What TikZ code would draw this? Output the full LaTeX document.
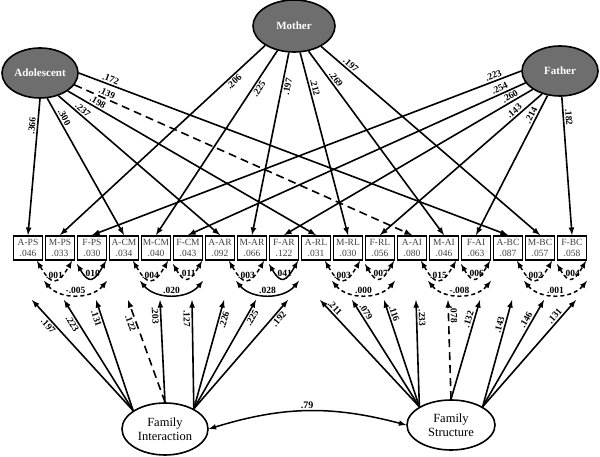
\documentclass[tikz,border=0pt]{standalone}
\usepackage{fontspec}
\setmainfont{Liberation Serif}
\usetikzlibrary{shapes.geometric}

\tikzset{
  latent/.style={ellipse, draw, line width=1.6pt, fill=black!57, text=white,
    font=\fontsize{11}{12}\selectfont\bfseries, inner sep=0pt},
  factor/.style={ellipse, draw, line width=1.6pt, fill=white, align=center,
    font=\fontsize{12.5}{14}\selectfont, inner sep=0pt},
  indic/.style={draw, line width=1.8pt, minimum width=29pt, minimum height=24pt,
    inner sep=0pt, align=center, text=black!75, font=\fontsize{9.5}{11}\selectfont},
  load/.style={line width=1.6pt, -latex},
  dsh/.style={dash pattern=on 8pt off 5pt},
  wlab/.style={font=\fontsize{9.5}{9.5}\selectfont\bfseries, sloped, inner sep=1.5pt},
  cov/.style={line width=1.5pt, latex-latex},
  cdash/.style={dash pattern=on 4pt off 3pt},
  csolid/.style={},
  clab/.style={font=\fontsize{9.5}{9.5}\selectfont\bfseries, inner sep=0.5pt, anchor=south}
}

\begin{document}
\begin{tikzpicture}[x=1pt, y=1pt]
\useasboundingbox (0,0) rectangle (600,-457);

% informants
\node[latent, minimum width=76pt, minimum height=50pt] (adol) at (40,-73) {Adolescent};
\node[latent, minimum width=82pt, minimum height=52pt] (moth) at (294,-26) {Mother};
\node[latent, minimum width=76pt, minimum height=50pt] (fath) at (560,-71) {Father};

% observed scores and their error points
\foreach \nm/\lab/\val [count=\i from 0] in {aps/A-PS/.046, mps/M-PS/.033, fps/F-PS/.030,
    acm/A-CM/.034, mcm/M-CM/.040, fcm/F-CM/.043, aar/A-AR/.092, mar/M-AR/.066, far/F-AR/.122,
    arl/A-RL/.031, mrl/M-RL/.030, frl/F-RL/.056, aai/A-AI/.080, mai/M-AI/.046, fai/F-AI/.063,
    abc/A-BC/.087, mbc/M-BC/.057, fbc/F-BC/.058}
{
    \node[indic] (\nm) at ({28+32*\i},-248) {\lab\\\val};
    \coordinate (e\nm) at ({32+32*\i},-300);
}

% family factors
\node[factor, minimum width=86pt, minimum height=52pt] (fint) at (165,-429) {Family\\Interaction};
\node[factor, minimum width=88pt, minimum height=50pt] (fstr) at (451,-425) {Family\\Structure};

% informant loadings
\foreach \nm/\ang/\p/\sd/\val in {aps/270/.2/left/.366, acm/286/.16/left/.300,
    aar/309/.13/left/.237, arl/327/.11/left/.198, abc/0/.07/left/.172}
    \draw[load] (adol.\ang) -- (\nm.north) node[wlab, pos=\p, auto=\sd] {\val};
\draw[load, dsh] (adol.341) -- (aai.north) node[wlab, pos=.09, auto] {.139};

\foreach \nm/\ang/\p/\sd/\val in {mps/214/.17/right/.206, mcm/236/.19/right/.225,
    mar/259/.18/right/.197, mrl/283/.2/left/.212, mai/300/.17/left/.269, mbc/323/.12/left/.197}
    \draw[load] (moth.\ang) -- (\nm.north) node[wlab, pos=\p, auto=\sd] {\val};

\foreach \nm/\ang/\p/\sd/\val in {fps/180/.06/left/.223, fcm/199/.07/left/.254,
    far/214/.08/left/.260, frl/232/.15/left/.143, fai/243/.16/left/.214, fbc/274/.15/left/.182}
    \draw[load] (fath.\ang) -- (\nm.north) node[wlab, pos=\p, auto=\sd] {\val};

% factor loadings
\foreach \nm/\st/\p/\val in {aps/150/.8/.197, mps/150/.81/.223, fps/150/.85/.131,
    mcm/90/.85/.203, fcm/35/.83/.127, aar/35/.83/.226, mar/35/.86/.225, far/35/.86/.192}
    \draw[load] (fint.\st) -- (e\nm) node[wlab, pos=\p, auto=right] {\val};
\draw[load, dsh] (fint.90) -- (eacm) node[wlab, pos=.79, auto=right] {.122};

\foreach \nm/\st/\p/\val in {arl/150/.89/.211, mrl/150/.86/.079, frl/150/.855/.116,
    aai/150/.83/.233, fai/90/.79/.132, abc/30/.755/.143, mbc/30/.785/.146, fbc/30/.816/.131}
    \draw[load] (fstr.\st) -- (e\nm) node[wlab, pos=\p, auto=left] {\val};
\draw[load, dsh] (fstr.90) -- (emai) node[wlab, pos=.85, auto=left] {.078};

% error covariances
\foreach \a/\m/\f/\am/\mf/\af/\sam/\smf/\saf in {
    aps/mps/fps/.001/.010/-.005/cdash/csolid/cdash,
    acm/mcm/fcm/.004/.011/.020/cdash/cdash/csolid,
    aar/mar/far/.003/.041/.028/cdash/csolid/csolid,
    arl/mrl/frl/.003/.007/.000/cdash/cdash/cdash,
    aai/mai/fai/.015/.006/-.008/cdash/cdash/cdash,
    abc/mbc/fbc/.002/.004/.001/cdash/cdash/cdash}
{
    \draw[cov, \sam] ([xshift=9pt]\a.south) to[out=-60, in=-120, looseness=2.1]
        node[clab] {\am} ([xshift=12pt]\m.south);
    \draw[cov, \smf] ([shift={(17pt,-3pt)}]\m.south) to[out=-60, in=-120, looseness=2.1]
        node[clab] {\mf} ([xshift=14pt]\f.south);
    \draw[cov, \saf] ([shift={(16pt,-20pt)}]\a.south) to[out=-50, in=-130, looseness=1]
        node[clab] {\af} ([shift={(15pt,-20pt)}]\f.south);
}

% factor correlation
\draw[cov, line width=1.5pt] (fint.east) to[bend left=16]
    node[above, font=\fontsize{10}{10}\selectfont\bfseries, inner sep=2pt] {.79} (fstr.west);
\end{tikzpicture}
\end{document}
